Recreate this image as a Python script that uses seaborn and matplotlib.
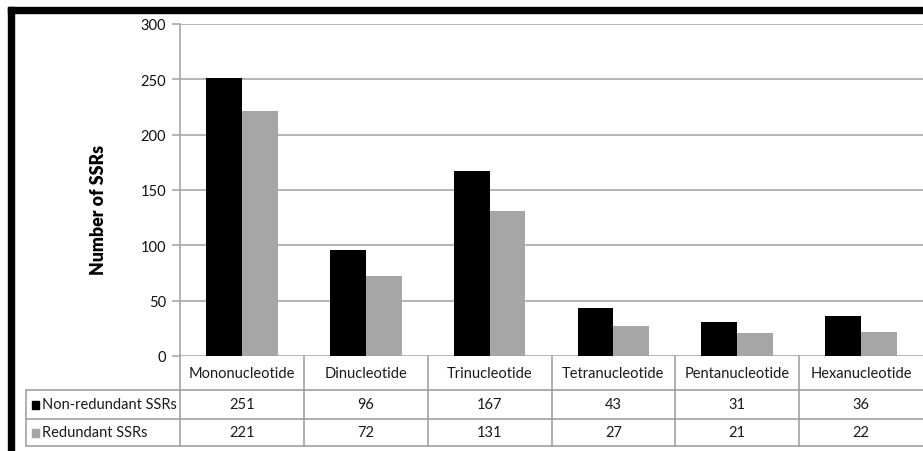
import matplotlib
matplotlib.use("Agg")
import matplotlib.pyplot as plt
from matplotlib.lines import Line2D
from matplotlib.patches import Rectangle
import matplotlib.transforms as mtransforms
import seaborn as sns
import pandas as pd

# SSR counts by repeat motif length
categories = ["Mononucleotide", "Dinucleotide", "Trinucleotide",
              "Tetranucleotide", "Pentanucleotide", "Hexanucleotide"]
non_redundant = [251, 96, 167, 43, 31, 36]
redundant = [221, 72, 131, 27, 21, 22]
series_names = ["Non-redundant SSRs", "Redundant SSRs"]
y_ticks = [0, 50, 100, 150, 200, 250, 300]

colors = ["#000000", "#a6a6a6"]
grid_color = "#a0a0a0"
table_color = "#9a9a9a"

sns.set_theme(style="white")
plt.rcParams["font.family"] = ["Lato", "DejaVu Sans"]

W, H = 923, 452
fig = plt.figure(figsize=(W / 100, H / 100), dpi=100)
fig.patch.set_facecolor("white")


def fx(px):
    return px / W


def fy(py):
    return 1 - py / H


ax_left, ax_right, ax_top, ax_bottom = 180, 923, 25, 357
ax = fig.add_axes([fx(ax_left), fy(ax_bottom), fx(ax_right - ax_left),
                   (ax_bottom - ax_top) / H])

df = pd.DataFrame({
    "Type": categories * 2,
    "Count": non_redundant + redundant,
    "Series": [series_names[0]] * len(categories) + [series_names[1]] * len(categories),
})

sns.barplot(data=df, x="Type", y="Count", hue="Series", order=categories,
            hue_order=series_names, palette=colors, saturation=1,
            width=0.58, gap=0, legend=False, ax=ax, zorder=3,
            linewidth=0, err_kws={"linewidth": 0})

ax.set_xlim(-0.5, len(categories) - 0.5)
ax.set_ylim(0, 300)
ax.set_yticks(y_ticks)
ax.set_yticklabels([str(v) for v in y_ticks], fontsize=10.5, color="#111111")
ax.set_xticks([])
ax.set_xlabel("")
ax.set_ylabel("")
ax.set_facecolor("white")
for y in y_ticks:
    ax.axhline(y, color=grid_color, lw=1.1, zorder=1)
for side in ["top", "right", "bottom"]:
    ax.spines[side].set_visible(False)
ax.spines["left"].set_color(grid_color)
ax.spines["left"].set_linewidth(1.1)
ax.tick_params(axis="y", which="major", direction="out", length=6, width=1.1,
               color=grid_color, pad=4, left=True)

fig.text(fx(98), fy(210), "Number of SSRs", rotation=90, ha="center",
         va="center", fontsize=12.8, fontweight="heavy", color="#000000")

# Data table under the bars
trans = mtransforms.blended_transform_factory(ax.transData, fig.transFigure)
row_header_bottom, row1_bottom, row2_bottom = 391, 420, 447
table_left = 26


def hline(x0, x1, y):
    fig.add_artist(Line2D([fx(x0), fx(x1)], [fy(y), fy(y)], color=table_color,
                          lw=1.1, transform=fig.transFigure))


def vline(x, y0, y1):
    fig.add_artist(Line2D([fx(x), fx(x)], [fy(y0), fy(y1)], color=table_color,
                          lw=1.1, transform=fig.transFigure))


hline(table_left, W, row_header_bottom)
hline(table_left, W, row1_bottom)
hline(table_left, W, row2_bottom)
vline(table_left, row_header_bottom, row2_bottom)
for i in range(len(categories)):
    xb = ax.transData.transform((i - 0.5, 0))[0]
    vline(xb, ax_bottom, row2_bottom)

header_y = (ax_bottom + row_header_bottom) / 2
row_ys = [(row_header_bottom + row1_bottom) / 2, (row1_bottom + row2_bottom) / 2]
for i, cat in enumerate(categories):
    fig.text(i, fy(header_y), cat, transform=trans, ha="center", va="center",
             fontsize=10.5, color="#1a1a1a")
    for vals, ry in zip([non_redundant, redundant], row_ys):
        fig.text(i, fy(ry), str(vals[i]), transform=trans, ha="center",
                 va="center", fontsize=10.5, color="#1a1a1a")

for name, col, ry in zip(series_names, colors, row_ys):
    fig.add_artist(Rectangle((fx(32), fy(ry + 4)), fx(7), 8 / H, color=col,
                             transform=fig.transFigure))
    fig.text(fx(42), fy(ry), name, ha="left", va="center", fontsize=10.5,
             color="#1a1a1a")

# Heavy black frame along the top and left edges
fig.add_artist(Rectangle((fx(8), fy(14)), fx(W - 8), 6 / H, color="black",
                         transform=fig.transFigure))
fig.add_artist(Rectangle((fx(8), 0), fx(6), fy(8), color="black",
                         transform=fig.transFigure))

fig.savefig("out.png", dpi=100)
